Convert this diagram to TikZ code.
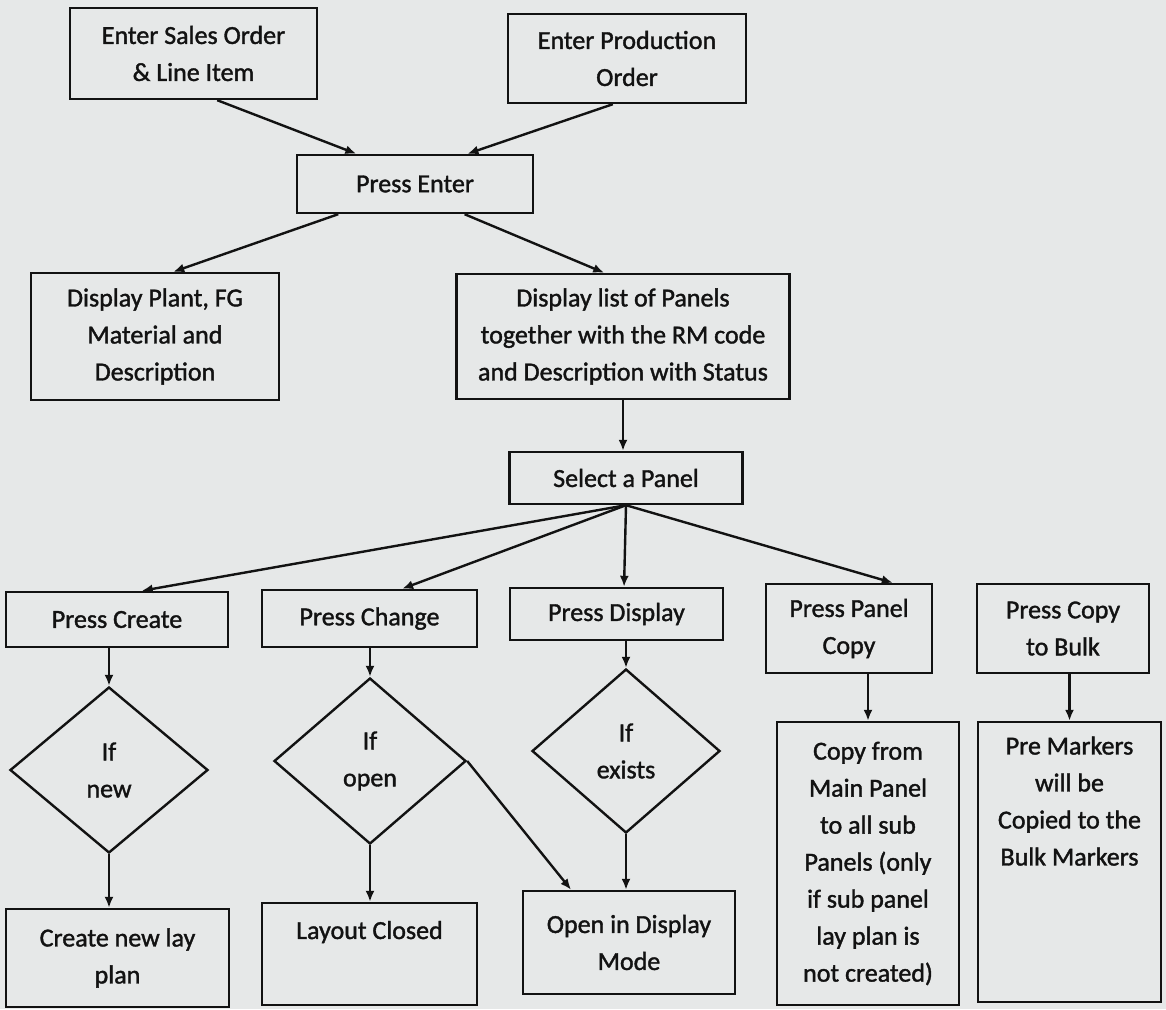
\documentclass[tikz,border=0pt]{standalone}
\usepackage{fontspec}
\newfontfamily\inkfont{Carlito}[FakeBold=1.4]
\usetikzlibrary{shapes.geometric,arrows.meta,calc}
\definecolor{bg}{RGB}{230,232,232}
\definecolor{ink}{RGB}{18,18,18}
\begin{document}
\begin{tikzpicture}[x=1pt,y=-1pt,
  every node/.style={font=\inkfont\fontsize{26}{37}\selectfont, text=ink},
  box/.style={draw=ink, line width=2.4pt, rectangle, align=center, inner sep=0pt},
  dia/.style={draw=ink, line width=2.4pt, diamond, align=center, inner sep=0pt},
  conn/.style={draw=ink, line width=2.4pt, -{Latex[length=11pt,width=9pt]}}]
\fill[bg] (0,0) rectangle (1166,1009);
\useasboundingbox (0,0) rectangle (1166,1009);

% top
\node[box, minimum width=247pt, minimum height=91pt] (so) at (193.5,53.5) {Enter Sales Order\\\& Line Item};
\node[box, minimum width=238pt, minimum height=89pt] (po) at (627,58.5) {Enter Production\\Order};
\node[box, minimum width=236pt, minimum height=58pt] (pe) at (415,184) {Press Enter};
\node[box, minimum width=248pt, minimum height=127pt] (dp) at (155,336.5) {Display Plant, FG\\Material and\\Description};
\node[box, minimum width=333pt, minimum height=125pt] (dl) at (623,336.5) {Display list of Panels\\together with the RM code\\and Description with Status};
\node[box, minimum width=233pt, minimum height=52pt] (sp) at (626,478) {Select a Panel};

% row of actions
\node[box, minimum width=222pt, minimum height=55pt] (pc) at (117,619.5) {Press Create};
\node[box, minimum width=215pt, minimum height=57pt] (pch) at (369.5,618.5) {Press Change};
\node[box, minimum width=213pt, minimum height=52pt] (pd) at (616.5,614) {Press Display};
\node[box, minimum width=166pt, minimum height=89pt] (ppc) at (849,628.5) {Press Panel\\Copy};
\node[box, minimum width=172pt, minimum height=89pt] (pcb) at (1063,628.5) {Press Copy\\to Bulk};

% decisions
\node[dia, minimum width=198pt, minimum height=166pt] (dnew) at (109,770) {If\\new};
\node[dia, minimum width=192pt, minimum height=166pt] (dopen) at (370,761) {If\\open};
\node[dia, minimum width=188pt, minimum height=164pt] (dex) at (626,751) {If\\exists};

% results
\node[box, minimum width=223pt, minimum height=98pt] (cnl) at (117.5,958) {Create new lay\\plan};
\node[box, minimum width=215pt, minimum height=102pt] (lc) at (369.5,954) {Layout Closed\\\strut};
\node[box, minimum width=212pt, minimum height=103pt] (odm) at (629,942.5) {Open in Display\\Mode};
\node[box, minimum width=182pt, minimum height=283pt] (cf) at (868,863.5) {Copy from\\Main Panel\\to all sub\\Panels (only\\if sub panel\\lay plan is\\not created)};
\node[box, minimum width=183pt, minimum height=280pt] (pm) at (1069.5,862) {Pre Markers\\will be\\Copied to the\\Bulk Markers\\\strut\\\strut\\\strut};

% connectors
\draw[conn] ($(so.south west)!0.595!(so.south east)$) -- ($(pe.north west)!0.254!(pe.north east)$);
\draw[conn] ($(po.south west)!0.441!(po.south east)$) -- ($(pe.north west)!0.72!(pe.north east)$);
\draw[conn] ($(pe.south west)!0.178!(pe.south east)$) -- ($(dp.north west)!0.573!(dp.north east)$);
\draw[conn] ($(pe.south west)!0.708!(pe.south east)$) -- ($(dl.north west)!0.444!(dl.north east)$);
\draw[conn] (dl.south) -- (dl.south |- sp.north);

\draw[conn] (sp.south) -- ($(pc.north west)!0.61!(pc.north east)$);
\draw[conn] (sp.south) -- ($(pch.north west)!0.65!(pch.north east)$);
\draw[conn] (sp.south) -- ($(pd.north west)!0.535!(pd.north east)$);
\draw[conn] (sp.south) -- ($(ppc.north west)!0.76!(ppc.north east)$);

\draw[conn] (dnew.north |- pc.south) -- (dnew.north);
\draw[conn] (dopen.north |- pch.south) -- (dopen.north);
\draw[conn] (dex.north |- pd.south) -- (dex.north);
\draw[conn] (cf.north |- ppc.south) -- (cf.north);
\draw[conn] (pm.north |- pcb.south) -- (pm.north);

\draw[conn] (dnew.south) -- (dnew.south |- cnl.north);
\draw[conn] (dopen.south) -- (dopen.south |- lc.north);
\draw[conn] (dopen.east) -- ($(odm.north west)!0.23!(odm.north east)$);
\draw[conn] (dex.south) -- (dex.south |- odm.north);
\end{tikzpicture}
\end{document}
